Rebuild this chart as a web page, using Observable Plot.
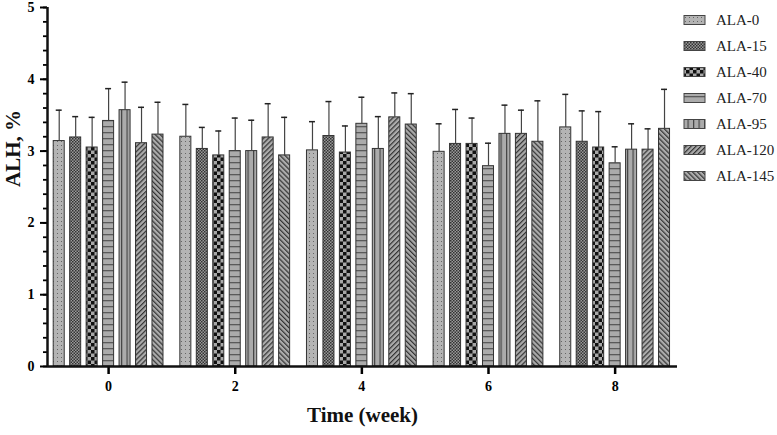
<!DOCTYPE html>
<html>
<head>
<meta charset="utf-8">
<script src="https://cdn.jsdelivr.net/npm/d3@7"></script>
<script src="https://cdn.jsdelivr.net/npm/@observablehq/plot@0.6"></script>
<style>
  html, body { margin: 0; padding: 0; background: #fff; }
  svg { font-family: "Liberation Serif", "Times New Roman", serif; }
</style>
</head>
<body>
<div id="chart"></div>
<script>
const weeks = [0, 2, 4, 6, 8];
const seriesNames = ["ALA-0", "ALA-15", "ALA-40", "ALA-70", "ALA-95", "ALA-120", "ALA-145"];
const yTicks = [0, 1, 2, 3, 4, 5];

const meanALA0   = [3.14, 3.20, 3.01, 2.99, 3.33];
const meanALA15  = [3.19, 3.03, 3.21, 3.10, 3.13];
const meanALA40  = [3.05, 2.94, 2.98, 3.10, 3.05];
const meanALA70  = [3.42, 3.00, 3.38, 2.79, 2.83];
const meanALA95  = [3.57, 3.00, 3.03, 3.24, 3.02];
const meanALA120 = [3.11, 3.19, 3.47, 3.24, 3.02];
const meanALA145 = [3.23, 2.94, 3.37, 3.13, 3.31];

const sdALA0   = [0.43, 0.45, 0.40, 0.39, 0.46];
const sdALA15  = [0.29, 0.30, 0.48, 0.48, 0.43];
const sdALA40  = [0.42, 0.34, 0.37, 0.36, 0.50];
const sdALA70  = [0.45, 0.46, 0.37, 0.32, 0.23];
const sdALA95  = [0.39, 0.43, 0.45, 0.40, 0.36];
const sdALA120 = [0.50, 0.47, 0.34, 0.33, 0.29];
const sdALA145 = [0.45, 0.53, 0.43, 0.57, 0.55];

const meansList = [meanALA0, meanALA15, meanALA40, meanALA70, meanALA95, meanALA120, meanALA145];
const sdList = [sdALA0, sdALA15, sdALA40, sdALA70, sdALA95, sdALA120, sdALA145];

const step = 0.26;    // bar step within a group (in weeks)
const halfW = 0.087;  // half bar width
const capHalf = 0.047;

const data = [];
seriesNames.forEach((s, i) => {
  weeks.forEach((w, j) => {
    const cx = w + (i - 3) * step;
    data.push({series: s, si: i, week: w, mean: meansList[i][j], sd: sdList[i][j],
      cx, x1: cx - halfW, x2: cx + halfW, top: meansList[i][j] + sdList[i][j]});
  });
});

const xMin = -0.965, xMax = 8.985;

const plot = Plot.plot({
  width: 777,
  height: 435,
  marginLeft: 47,
  marginRight: 100,
  marginTop: 7,
  marginBottom: 69,
  style: {fontFamily: "Liberation Serif, Times New Roman, serif", background: "#fff"},
  x: {domain: [xMin, xMax]},
  y: {domain: [0, 5]},
  marks: [
    Plot.rectY(data, {x1: "x1", x2: "x2", y: "mean", fill: d => `url(#pat${d.si})`, stroke: "#333", strokeWidth: 1}),
    Plot.ruleX(data, {x: "cx", y1: "mean", y2: "top", stroke: "#444", strokeWidth: 1.2}),
    Plot.ruleY(data, {y: "top", x1: d => d.cx - capHalf, x2: d => d.cx + capHalf, stroke: "#222", strokeWidth: 1.5}),
    Plot.axisY({ticks: d3.range(0, 5.001, 0.2), tickSize: 4, text: null, label: null, strokeWidth: 1.8}),
    Plot.axisY({ticks: yTicks, tickSize: 7, tickPadding: 6, tickFormat: d3.format("d"), fontSize: 14, fontWeight: "bold", label: null, strokeWidth: 2}),
    Plot.axisX({ticks: weeks, tickSize: 8, tickPadding: 7, tickFormat: d3.format("d"), fontSize: 14, fontWeight: "bold", label: null, strokeWidth: 2.5}),
    Plot.ruleY([0], {x1: xMin, x2: xMax, stroke: "#111", strokeWidth: 2.5}),
    Plot.ruleX([xMin], {y1: 0, y2: 5, stroke: "#111", strokeWidth: 2.5}),
    Plot.text(["ALH, %"], {frameAnchor: "left", rotate: -90, dx: -34, fontSize: 21, fontWeight: "bold", fill: "#111"}),
    Plot.text(["Time (week)"], {frameAnchor: "bottom", dy: 55, fontSize: 21, fontWeight: "bold", fill: "#111"})
  ]
});

// Patterns
const svg = d3.select(plot);
const defs = svg.insert("defs", ":first-child");
const base = "#ababab";
// 0: dots
{
  const p = defs.append("pattern").attr("id", "pat0").attr("patternUnits", "userSpaceOnUse").attr("width", 4).attr("height", 4);
  p.append("rect").attr("width", 4).attr("height", 4).attr("fill", "#b4b4b4");
  p.append("rect").attr("x", 1).attr("y", 1).attr("width", 1).attr("height", 1).attr("fill", "#666");
}
// 1: fine check
{
  const p = defs.append("pattern").attr("id", "pat1").attr("patternUnits", "userSpaceOnUse").attr("width", 3).attr("height", 3);
  p.append("rect").attr("width", 3).attr("height", 3).attr("fill", "#9a9a9a");
  p.append("rect").attr("width", 1.5).attr("height", 1.5).attr("fill", "#333");
  p.append("rect").attr("x", 1.5).attr("y", 1.5).attr("width", 1.5).attr("height", 1.5).attr("fill", "#333");
}
// 2: big check
{
  const p = defs.append("pattern").attr("id", "pat2").attr("patternUnits", "userSpaceOnUse").attr("width", 7).attr("height", 7);
  p.append("rect").attr("width", 7).attr("height", 7).attr("fill", "#a8a8a8");
  p.append("rect").attr("width", 3.5).attr("height", 3.5).attr("fill", "#111");
  p.append("rect").attr("x", 3.5).attr("y", 3.5).attr("width", 3.5).attr("height", 3.5).attr("fill", "#111");
}
// 3: horizontal stripes
{
  const p = defs.append("pattern").attr("id", "pat3").attr("patternUnits", "userSpaceOnUse").attr("width", 6).attr("height", 6);
  p.append("rect").attr("width", 6).attr("height", 6).attr("fill", base);
  p.append("rect").attr("y", 0).attr("width", 6).attr("height", 1.3).attr("fill", "#5a5a5a");
}
// 4: vertical stripes
{
  const p = defs.append("pattern").attr("id", "pat4").attr("patternUnits", "userSpaceOnUse").attr("width", 5.5).attr("height", 6);
  p.append("rect").attr("width", 5.5).attr("height", 6).attr("fill", base);
  p.append("rect").attr("x", 0).attr("width", 1.2).attr("height", 6).attr("fill", "#444");
}
// 5: "/" diagonal
{
  const p = defs.append("pattern").attr("id", "pat5").attr("patternUnits", "userSpaceOnUse").attr("width", 3.5).attr("height", 3.5)
    .attr("patternTransform", "rotate(45)");
  p.append("rect").attr("width", 3.5).attr("height", 3.5).attr("fill", base);
  p.append("rect").attr("width", 1.2).attr("height", 3.5).attr("fill", "#333");
}
// 6: "\" diagonal
{
  const p = defs.append("pattern").attr("id", "pat6").attr("patternUnits", "userSpaceOnUse").attr("width", 3.5).attr("height", 3.5)
    .attr("patternTransform", "rotate(-45)");
  p.append("rect").attr("width", 3.5).attr("height", 3.5).attr("fill", base);
  p.append("rect").attr("width", 1.2).attr("height", 3.5).attr("fill", "#333");
}

// Legend
const lg = svg.append("g").attr("class", "legend").attr("text-anchor", "start");
seriesNames.forEach((s, i) => {
  const cy = 20 + i * 26;
  lg.append("rect").attr("x", 684).attr("y", cy - 4.5).attr("width", 21).attr("height", 9)
    .attr("fill", `url(#pat${i})`).attr("stroke", "#444").attr("stroke-width", 1);
  lg.append("text").attr("x", 716).attr("y", cy).attr("dy", "0.36em").attr("text-anchor", "start")
    .style("font-size", "15px").style("font-family", "'Liberation Serif', 'Times New Roman', serif")
    .attr("fill", "#222").text(s);
});

document.getElementById("chart").appendChild(plot);
</script>
</body>
</html>
